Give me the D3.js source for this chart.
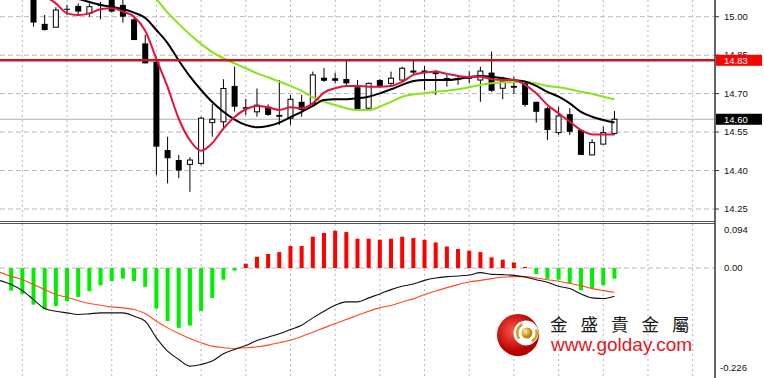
<!DOCTYPE html>
<html>
<head>
<meta charset="utf-8">
<script src="https://cdn.jsdelivr.net/npm/d3@7"></script>
<style>
    html, body { margin: 0; padding: 0; background: #fff; }
    svg { display: block; font-family: "Liberation Sans", Arial, sans-serif; }
</style>
</head>
<body>
<div id="chart"></div>
<script>
"use strict";

/***** data (bar index 0 = leftmost bar) *****/

const open  = [15.10, 15.11, 15.12, 15.09, 14.972, 14.959, 15.031, 15.042, 15.013, 15.047,
               15.08, 15.046, 14.990, 14.896, 14.824, 14.480, 14.441, 14.424, 14.428, 14.587,
               14.590, 14.730, 14.647, 14.629, 14.649, 14.617, 14.604, 14.668, 14.662, 14.762,
               14.760, 14.757, 14.725, 14.643, 14.753, 14.740, 14.753, 14.790, 14.790, 14.789,
               14.761, 14.760, 14.760, 14.753, 14.782, 14.721, 14.730, 14.740, 14.668, 14.643,
               14.548, 14.620, 14.558, 14.461, 14.503, 14.545];
const high  = [15.13, 15.14, 15.14, 15.11, 15.007, 15.037, 15.046, 15.052, 15.052, 15.058,
               15.10, 15.07, 15.000, 14.929, 14.830, 14.532, 14.461, 14.452, 14.610, 14.660,
               14.756, 14.805, 14.680, 14.720, 14.658, 14.753, 14.695, 14.695, 14.786, 14.800,
               14.782, 14.830, 14.753, 14.743, 14.757, 14.786, 14.805, 14.830, 14.808, 14.792,
               14.773, 14.773, 14.787, 14.805, 14.864, 14.766, 14.766, 14.747, 14.668, 14.649,
               14.649, 14.643, 14.558, 14.522, 14.571, 14.632];
const low   = [15.08, 15.09, 15.08, 14.961, 14.946, 14.959, 15.007, 15.007, 15.000, 14.990,
               15.016, 14.977, 14.909, 14.818, 14.382, 14.350, 14.370, 14.317, 14.422, 14.532,
               14.558, 14.630, 14.616, 14.610, 14.613, 14.578, 14.578, 14.610, 14.649, 14.746,
               14.740, 14.734, 14.636, 14.639, 14.721, 14.734, 14.746, 14.773, 14.714, 14.695,
               14.727, 14.734, 14.740, 14.668, 14.707, 14.678, 14.699, 14.649, 14.587, 14.519,
               14.539, 14.539, 14.461, 14.461, 14.503, 14.539];
const close = [15.11, 15.12, 15.09, 14.977, 14.948, 15.026, 15.029, 15.020, 15.039, 15.042,
               15.020, 15.000, 14.909, 14.818, 14.493, 14.448, 14.400, 14.441, 14.604, 14.600,
               14.720, 14.649, 14.641, 14.655, 14.617, 14.610, 14.678, 14.636, 14.773, 14.750,
               14.750, 14.740, 14.639, 14.740, 14.730, 14.760, 14.799, 14.782, 14.782, 14.776,
               14.755, 14.755, 14.765, 14.788, 14.711, 14.747, 14.723, 14.656, 14.629, 14.558,
               14.613, 14.551, 14.461, 14.509, 14.548, 14.600];

const maRed   = [null, null, null, null, 15.08, 15.052, 15.013, 15.007, 15.013, 15.029,
                 15.033, 15.020, 15.000, 14.945, 14.835, 14.726, 14.602, 14.518, 14.477, 14.507,
                 14.564, 14.609, 14.639, 14.652, 14.647, 14.636, 14.647, 14.643, 14.662, 14.704,
                 14.721, 14.730, 14.730, 14.727, 14.727, 14.730, 14.746, 14.773, 14.782, 14.785,
                 14.777, 14.769, 14.765, 14.766, 14.756, 14.753, 14.753, 14.734, 14.701, 14.656,
                 14.623, 14.590, 14.558, 14.541, 14.541, 14.541];
const maBlack = [null, null, null, null, null, null, null, 15.07, 15.057, 15.046,
                 15.039, 15.030, 15.016, 14.995, 14.948, 14.897, 14.829, 14.767, 14.714, 14.667,
                 14.629, 14.599, 14.578, 14.569, 14.574, 14.587, 14.608, 14.629, 14.652, 14.675,
                 14.678, 14.678, 14.682, 14.688, 14.701, 14.717, 14.734, 14.749, 14.753, 14.753,
                 14.753, 14.757, 14.764, 14.769, 14.766, 14.760, 14.753, 14.747, 14.730, 14.707,
                 14.688, 14.662, 14.629, 14.610, 14.597, 14.587];
const maGreen = [null, null, null, null, null, null, null, null, null, null,
                 null, null, null, null, 15.07, 15.016, 14.972, 14.931, 14.894, 14.862,
                 14.838, 14.818, 14.799, 14.779, 14.764, 14.747, 14.730, 14.711, 14.685, 14.668,
                 14.656, 14.643, 14.636, 14.636, 14.649, 14.668, 14.688, 14.697, 14.701, 14.707,
                 14.711, 14.717, 14.725, 14.734, 14.740, 14.744, 14.745, 14.745, 14.740, 14.730,
                 14.725, 14.717, 14.707, 14.699, 14.688, 14.678];

const macdHist = [null, -0.048, -0.055, -0.078, -0.0885, -0.081, -0.071, -0.0615, -0.0495, -0.037,
                  -0.028, -0.0225, -0.028, -0.040, -0.0865, -0.113, -0.1275, -0.1225, -0.092, -0.0637,
                  -0.0247, -0.0055, 0.0094, 0.024, 0.030, 0.034, 0.047, 0.047, 0.0668, 0.075,
                  0.0796, 0.0768, 0.0626, 0.0626, 0.0604, 0.0626, 0.0668, 0.064, 0.0604, 0.0547,
                  0.046, 0.0406, 0.037, 0.034, 0.0228, 0.018, 0.012, 0.0023, -0.0126, -0.023,
                  -0.0247, -0.0317, -0.0474, -0.0424, -0.0368, -0.0225];
const macdLine = [-0.0268, -0.0353, -0.0481, -0.0672, -0.0864, -0.0921, -0.0956, -0.0991, -0.0977, -0.0956,
                  -0.0956, -0.0956, -0.1027, -0.1134, -0.1488, -0.1772, -0.1949, -0.2091, -0.2055, -0.1985,
                  -0.1828, -0.1736, -0.1651, -0.1545, -0.1474, -0.1403, -0.1311, -0.1219, -0.1063, -0.0921,
                  -0.0794, -0.0722, -0.0722, -0.0636, -0.0551, -0.046, -0.0389, -0.0339, -0.0262, -0.0212,
                  -0.0183, -0.0169, -0.0148, -0.0098, -0.0134, -0.0141, -0.0155, -0.019, -0.0248, -0.0304,
                  -0.0389, -0.0438, -0.0551, -0.0636, -0.065, -0.0601];
const signalLine = [-0.0092, -0.0177, -0.0248, -0.0353, -0.046, -0.0566, -0.0623, -0.0694, -0.0757, -0.0794,
                    -0.0828, -0.0849, -0.0885, -0.097, -0.1134, -0.1276, -0.1396, -0.1502, -0.1593, -0.1666,
                    -0.17, -0.1715, -0.17, -0.1679, -0.1644, -0.1593, -0.1538, -0.146, -0.1367, -0.1276,
                    -0.1183, -0.1098, -0.1006, -0.0921, -0.0849, -0.08, -0.0722, -0.0657, -0.0566, -0.0488,
                    -0.0417, -0.0353, -0.0296, -0.0262, -0.0226, -0.0197, -0.0183, -0.0183, -0.0212, -0.0248,
                    -0.0283, -0.0326, -0.0375, -0.0438, -0.0481, -0.0517];

const priceTicks = [15.00, 14.85, 14.70, 14.55, 14.40, 14.25];
const macdTicks = [0.094, 0.00, -0.226];
const macdTickLabels = ["0.094", "0.00", "-0.226"];
const levelPrice = 14.83;
const lastPrice = 14.60;
const logoName = "金盛貴金屬";
const logoUrl = "www.golday.com";


/***** scales *****/

const W = 764, H = 378,
    axisX = 715,
    mainBottom = 221,
    subTop = 224;

const x = d3.scaleLinear().domain([0, 64]).range([0, axisX]);
const yP = d3.scaleLinear().domain([14.25, 15.00]).range([209, 16.7]);
const yM = d3.scaleLinear().domain([-0.226, 0.094]).range([374, 224]);

const svg = d3.select("#chart")
    .append("svg")
    .attr("width", W)
    .attr("height", H);

const defs = svg.append("defs");
defs.append("clipPath").attr("id", "clipMain")
    .append("rect").attr("x", 0).attr("y", 0).attr("width", axisX).attr("height", mainBottom);
defs.append("clipPath").attr("id", "clipSub")
    .append("rect").attr("x", 0).attr("y", subTop).attr("width", axisX).attr("height", H - subTop);


/***** grid *****/

let grid = svg.append("g");
let vIdx = d3.range(2, 64, 4);

grid.selectAll("line.vmain")
    .data(vIdx).enter().append("line")
    .attr("x1", d => x(d)).attr("x2", d => x(d))
    .attr("y1", 0).attr("y2", mainBottom);
grid.selectAll("line.vsub")
    .data(vIdx).enter().append("line")
    .attr("x1", d => x(d)).attr("x2", d => x(d))
    .attr("y1", subTop).attr("y2", H);
grid.selectAll("line")
    .attr("stroke", "#b8b8b8")
    .attr("stroke-dasharray", "2,3");

grid.selectAll("line.h")
    .data(priceTicks).enter().append("line")
    .attr("class", "h")
    .attr("x1", 0).attr("x2", axisX)
    .attr("y1", d => yP(d)).attr("y2", d => yP(d))
    .attr("stroke", "#b8b8b8")
    .attr("stroke-dasharray", "5,3");

grid.append("line")
    .attr("x1", 0).attr("x2", axisX)
    .attr("y1", yM(0)).attr("y2", yM(0))
    .attr("stroke", "#b8b8b8")
    .attr("stroke-dasharray", "5,3");

// current price line
svg.append("line")
    .attr("x1", 0).attr("x2", axisX)
    .attr("y1", yP(lastPrice)).attr("y2", yP(lastPrice))
    .attr("stroke", "#b0b0b0");


/***** candles *****/

let main = svg.append("g").attr("clip-path", "url(#clipMain)");
let bars = d3.range(open.length);

let candle = main.selectAll("g.candle")
    .data(bars).enter().append("g")
    .attr("class", "candle");

candle.append("line")
    .attr("x1", i => x(i)).attr("x2", i => x(i))
    .attr("y1", i => yP(high[i])).attr("y2", i => yP(low[i]))
    .attr("stroke", "#000");

candle.append("rect")
    .attr("x", i => close[i] >= open[i] ? x(i) - 2.5 : x(i) - 3)
    .attr("width", i => close[i] >= open[i] ? 5 : 6)
    .attr("y", i => yP(Math.max(open[i], close[i])))
    .attr("height", i => Math.max(1, Math.abs(yP(open[i]) - yP(close[i]))))
    .attr("fill", i => close[i] >= open[i] ? "#fff" : "#000")
    .attr("stroke", i => close[i] >= open[i] ? "#000" : "none");


/***** moving averages *****/

let maLine = d3.line()
    .defined(d => d != null)
    .x((d, i) => x(i))
    .y(d => yP(d))
    .curve(d3.curveMonotoneX);

[[maGreen, "#86e61a"], [maBlack, "#000"], [maRed, "#e3123f"]].forEach(([s, c]) => {
    main.append("path")
        .attr("d", maLine(s))
        .attr("fill", "none")
        .attr("stroke", c)
        .attr("stroke-width", 2);
});

// horizontal level
main.append("line")
    .attr("x1", 0).attr("x2", axisX)
    .attr("y1", yP(levelPrice)).attr("y2", yP(levelPrice))
    .attr("stroke", "#c8161d")
    .attr("stroke-width", 2.5);


/***** MACD *****/

let sub = svg.append("g").attr("clip-path", "url(#clipSub)");

sub.selectAll("rect")
    .data(bars.filter(i => macdHist[i] != null))
    .enter().append("rect")
    .attr("x", i => x(i) - 2)
    .attr("width", 4)
    .attr("y", i => Math.min(yM(0), yM(macdHist[i])))
    .attr("height", i => Math.abs(yM(macdHist[i]) - yM(0)))
    .attr("fill", i => macdHist[i] >= 0 ? "#ff0000" : "#00ee00");

let mLine = d3.line()
    .x((d, i) => x(i))
    .y(d => yM(d))
    .curve(d3.curveMonotoneX);

sub.append("path")
    .attr("d", mLine(signalLine))
    .attr("fill", "none")
    .attr("stroke", "#ff4a1c")
    .attr("stroke-width", 1.1);
sub.append("path")
    .attr("d", mLine(macdLine))
    .attr("fill", "none")
    .attr("stroke", "#111")
    .attr("stroke-width", 1.1);


/***** separators & axis *****/

svg.append("line").attr("x1", 0).attr("x2", axisX).attr("y1", 221.5).attr("y2", 221.5)
    .attr("stroke", "#555");
svg.append("line").attr("x1", 0).attr("x2", axisX).attr("y1", 223.5).attr("y2", 223.5)
    .attr("stroke", "#555");
svg.append("line").attr("x1", axisX).attr("x2", axisX).attr("y1", 0).attr("y2", H)
    .attr("stroke", "#333").attr("stroke-width", 1.5);

let axis = svg.append("g")
    .attr("font-size", 9.5)
    .attr("fill", "#111");

axis.selectAll("line.pt")
    .data(priceTicks).enter().append("line")
    .attr("x1", axisX).attr("x2", axisX + 4)
    .attr("y1", d => yP(d)).attr("y2", d => yP(d))
    .attr("stroke", "#333");

// 14.85 sits right under the 14.83 marker, as in the original
axis.selectAll("text.pt")
    .data(priceTicks).enter().append("text")
    .attr("x", axisX + 9)
    .attr("y", d => yP(d))
    .attr("dy", "0.35em")
    .text(d => d.toFixed(2));

axis.selectAll("text.mt")
    .data(macdTicks).enter().append("text")
    .attr("x", (d, i) => d < 0 ? axisX + 5 : axisX + 9)
    .attr("y", (d, i) => yM(d) + (i == 0 ? 6 : i == 2 ? -6 : 0))
    .attr("dy", "0.35em")
    .text((d, i) => macdTickLabels[i]);

// price markers
[[levelPrice, "#ff0000"], [lastPrice, "#000"]].forEach(([p, c]) => {
    axis.append("rect")
        .attr("x", axisX + 1)
        .attr("y", yP(p) - 5.5)
        .attr("width", 46)
        .attr("height", 11)
        .attr("fill", c);
    axis.append("text")
        .attr("x", axisX + 9)
        .attr("y", yP(p))
        .attr("dy", "0.35em")
        .attr("fill", "#fff")
        .text(p.toFixed(2));
});


/***** logo *****/

let rg = defs.append("radialGradient").attr("id", "redBall").attr("cx", "40%").attr("cy", "40%");
rg.append("stop").attr("offset", "0%").attr("stop-color", "#ff5a4a");
rg.append("stop").attr("offset", "100%").attr("stop-color", "#b80000");
let gg = defs.append("radialGradient").attr("id", "goldBall").attr("cx", "35%").attr("cy", "35%");
gg.append("stop").attr("offset", "0%").attr("stop-color", "#fff0a0");
gg.append("stop").attr("offset", "100%").attr("stop-color", "#b88a10");

let logo = svg.append("g").attr("transform", "translate(518,335)");
logo.append("circle").attr("r", 21).attr("fill", "url(#redBall)");
logo.append("circle").attr("cx", 8).attr("cy", -2).attr("r", 12.5).attr("fill", "#fff");
let arc = d3.arc().innerRadius(8.5).outerRadius(11);
logo.append("path")
    .attr("transform", "translate(9,-2)")
    .attr("d", arc({startAngle: -2.2, endAngle: -0.5}))
    .attr("fill", "#c9a227");
logo.append("path")
    .attr("transform", "translate(9,-2)")
    .attr("d", arc({startAngle: 1.2, endAngle: 2.6}))
    .attr("fill", "#c9a227");
logo.append("circle").attr("cx", 9).attr("cy", -2).attr("r", 5.5).attr("fill", "url(#goldBall)");

svg.append("text")
    .attr("x", 550)
    .attr("y", 331)
    .attr("font-family", "'Noto Sans CJK TC', 'Noto Sans CJK SC', sans-serif")
    .attr("font-size", 17.5)
    .attr("letter-spacing", 13)
    .attr("fill", "#1a1a1a")
    .text(logoName);

svg.append("text")
    .attr("x", 551)
    .attr("y", 351)
    .attr("font-size", 19)
    .attr("fill", "#e8141e")
    .text(logoUrl);
</script>
</body>
</html>
